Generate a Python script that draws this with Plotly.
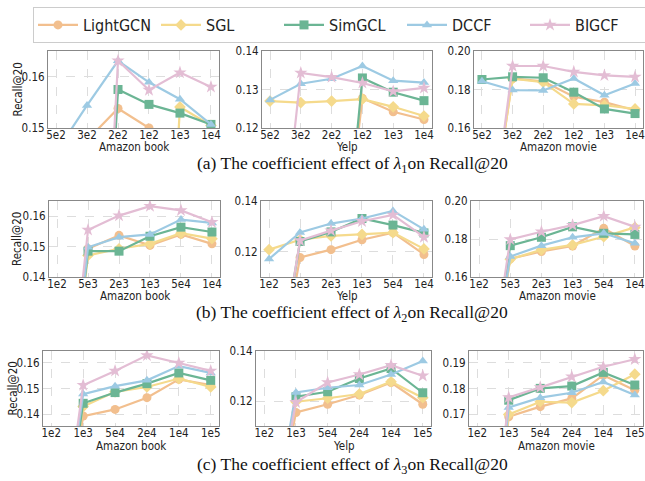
import plotly.graph_objects as go

models = ["LightGCN", "SGL", "SimGCL", "DCCF", "BIGCF"]
colors = ["#F2BF8E", "#F5DA8C", "#6BB594", "#9DCAE3", "#E3BDD4"]
symbols = ["circle", "diamond", "square", "triangle-up", "star"]

x_a = ["5e2", "3e2", "2e2", "1e2", "1e3", "1e4"]
x_b = ["1e2", "5e3", "2e3", "1e3", "5e4", "1e4"]
x_c = ["1e2", "1e3", "5e4", "2e4", "1e4", "1e5"]

# Row (a): lambda_1
book_a = {
    "LightGCN": [0.146, 0.1476, 0.1538, 0.1500, 0.148, 0.147],
    "SGL": [0.05, 0.05, 0.05, 0.05, 0.1541, 0.1505],
    "SimGCL": [0.05, 0.05, 0.1575, 0.1546, 0.1529, 0.1507],
    "DCCF": [0.1453, 0.1544, 0.1631, 0.1589, 0.1556, 0.1507],
    "BIGCF": [0.05, 0.05, 0.1631, 0.1574, 0.1608, 0.1580],
}
yelp_a = {
    "LightGCN": [0.06, 0.06, 0.06, 0.1277, 0.1242, 0.1222],
    "SGL": [0.1270, 0.1266, 0.1270, 0.1275, 0.1255, 0.1231],
    "SimGCL": [0.05, 0.05, 0.05, 0.1330, 0.1293, 0.1271],
    "DCCF": [0.1273, 0.1315, 0.1328, 0.1361, 0.1323, 0.1318],
    "BIGCF": [0.06, 0.1343, 0.1332, 0.1317, 0.1295, 0.1304],
}
movie_a = {
    "LightGCN": [0.08, 0.1857, 0.1843, 0.1762, 0.1734, 0.1692],
    "SGL": [0.08, 0.1856, 0.1838, 0.1725, 0.1718, 0.1699],
    "SimGCL": [0.1852, 0.1866, 0.1861, 0.1786, 0.1699, 0.1675],
    "DCCF": [0.1843, 0.1797, 0.1795, 0.1857, 0.1770, 0.1831],
    "BIGCF": [0.07, 0.1922, 0.1922, 0.1892, 0.1873, 0.1866],
}

# Row (b): lambda_2
book_b = {
    "LightGCN": [0.06, 0.1493, 0.1537, 0.1504, 0.1540, 0.1509],
    "SGL": [0.06, 0.1471, 0.1493, 0.1509, 0.1544, 0.1526],
    "SimGCL": [0.06, 0.1485, 0.1485, 0.1534, 0.1564, 0.1548],
    "DCCF": [0.06, 0.1498, 0.1531, 0.1540, 0.1589, 0.1578],
    "BIGCF": [0.06, 0.1555, 0.1602, 0.1633, 0.1619, 0.1580],
}
yelp_b = {
    "LightGCN": [0.05, 0.1177, 0.1208, 0.1247, 0.1275, 0.1189],
    "SGL": [0.1208, 0.1247, 0.1262, 0.1268, 0.1275, 0.1211],
    "SimGCL": [0.05, 0.1240, 0.1278, 0.1331, 0.1305, 0.1274],
    "DCCF": [0.1171, 0.1276, 0.1311, 0.1331, 0.1361, 0.1288],
    "BIGCF": [0.05, 0.1244, 0.1283, 0.1320, 0.1345, 0.1258],
}
movie_b = {
    "LightGCN": [0.07, 0.1696, 0.1734, 0.1763, 0.1856, 0.1763],
    "SGL": [0.07, 0.1694, 0.1743, 0.1769, 0.1812, 0.1861],
    "SimGCL": [0.07, 0.1765, 0.1809, 0.1864, 0.1830, 0.1824],
    "DCCF": [0.07, 0.1708, 0.1765, 0.1809, 0.1830, 0.1777],
    "BIGCF": [0.07, 0.1798, 0.1838, 0.1873, 0.1920, 0.1864],
}

# Row (c): lambda_3
book_c = {
    "LightGCN": [0.06, 0.1392, 0.1418, 0.1464, 0.1536, 0.1513],
    "SGL": [0.06, 0.1429, 0.1487, 0.1506, 0.1539, 0.1506],
    "SimGCL": [0.06, 0.1442, 0.1484, 0.1519, 0.1561, 0.1532],
    "DCCF": [0.06, 0.1478, 0.1509, 0.1532, 0.1588, 0.1561],
    "BIGCF": [0.06, 0.1513, 0.1569, 0.1630, 0.1600, 0.1569],
}
yelp_c = {
    "LightGCN": [0.05, 0.1154, 0.1187, 0.1224, 0.1274, 0.1187],
    "SGL": [0.05, 0.1197, 0.1211, 0.1228, 0.1277, 0.1213],
    "SimGCL": [0.05, 0.1217, 0.1237, 0.1290, 0.1330, 0.1233],
    "DCCF": [0.05, 0.1234, 0.1253, 0.1264, 0.1306, 0.1360],
    "BIGCF": [0.05, 0.1195, 0.1274, 0.1306, 0.1343, 0.1301],
}
movie_c = {
    "LightGCN": [0.06, 0.1691, 0.1730, 0.1762, 0.1852, 0.1794],
    "SGL": [0.06, 0.1700, 0.1749, 0.1746, 0.1792, 0.1856],
    "SimGCL": [0.06, 0.1755, 0.1801, 0.1810, 0.1863, 0.1814],
    "DCCF": [0.06, 0.1727, 0.1765, 0.1784, 0.1826, 0.1775],
    "BIGCF": [0.06, 0.1766, 0.1805, 0.1846, 0.1885, 0.1914],
}

dataset_titles = ["Amazon book", "Yelp", "Amazon movie"]
y_title = "Recall@20"
captions = [
    "(a) The coefficient effect of <i>λ</i><sub>1</sub>on Recall@20",
    "(b) The coefficient effect of <i>λ</i><sub>2</sub>on Recall@20",
    "(c) The coefficient effect of <i>λ</i><sub>3</sub>on Recall@20",
]

panels = [
    [(book_a, x_a, [0.15, 0.165], [0.15, 0.16]),
     (yelp_a, x_a, [0.12, 0.14], [0.12, 0.13, 0.14]),
     (movie_a, x_a, [0.16, 0.20], [0.16, 0.18, 0.20])],
    [(book_b, x_b, [0.14, 0.165], [0.14, 0.15, 0.16]),
     (yelp_b, x_b, [0.11, 0.14], [0.12, 0.14]),
     (movie_b, x_b, [0.16, 0.20], [0.16, 0.18, 0.20])],
    [(book_c, x_c, [0.1353, 0.1647], [0.14, 0.15, 0.16]),
     (yelp_c, x_c, [0.11, 0.14], [0.12, 0.14]),
     (movie_c, x_c, [0.1655, 0.1946], [0.17, 0.18, 0.19])],
]

W, H = 645, 481
# pixel boxes (left, right, top, bottom) of each panel
boxes = [
    [(48, 219, 51, 128), (262, 432, 51, 128), (474, 643, 51, 128)],
    [(49, 220, 201, 277), (261, 432, 201, 277), (471, 643, 201, 277)],
    [(43, 219, 351, 426), (256, 431, 351, 426), (469, 643, 351, 426)],
]
caption_y = [165, 313, 465]
xtitle_y = [147, 296, 446]
ytitle_x = [17, 17, 12]

FONT = "DejaVu Sans Condensed, DejaVu Sans"
fig = go.Figure()
layout = {}
annotations = []
n = 0
tfont = dict(family=FONT, size=11.5, color="#222")
for r in range(3):
    for c in range(3):
        n += 1
        data, xcats, yr, yt = panels[r][c]
        l, rr, t, b = boxes[r][c]
        xa = "xaxis" if n == 1 else f"xaxis{n}"
        ya = "yaxis" if n == 1 else f"yaxis{n}"
        xref = "x" if n == 1 else f"x{n}"
        yref = "y" if n == 1 else f"y{n}"
        for i, m in enumerate(models):
            fig.add_trace(go.Scatter(
                x=xcats, y=data[m], mode="lines+markers", name=m,
                legendgroup=m, showlegend=(n == 1),
                line=dict(color=colors[i], width=2.2),
                marker=dict(symbol=symbols[i], size=9 if symbols[i] != "star" else 10,
                            color=colors[i], line=dict(width=0)),
                xaxis=xref, yaxis=yref, cliponaxis=True,
            ))
        layout[xa] = dict(
            domain=[l / W, rr / W], anchor=yref, type="category",
            categoryorder="array", categoryarray=xcats, automargin=False,
            range=[-0.26, 5.26], showgrid=True, gridcolor="#dddddd",
            griddash="dash", gridwidth=0.8, showline=True, linecolor="#888888",
            linewidth=1.2, mirror=True, ticks="", ticklen=0, ticklabelstandoff=-4,
            tickfont=tfont, zeroline=False,
        )
        layout[ya] = dict(
            domain=[1 - b / H, 1 - t / H], anchor=xref, range=yr, automargin=False,
            tickvals=yt, ticktext=[f"{v:.2f}" for v in yt],
            showgrid=True, gridcolor="#dddddd", griddash="dash", gridwidth=0.8,
            showline=True, linecolor="#888888", linewidth=1.2, mirror=True,
            ticks="", tickfont=tfont, zeroline=False,
        )
        annotations.append(dict(
            text=dataset_titles[c], x=(l + rr) / 2 / W, y=1 - xtitle_y[r] / H,
            xref="paper", yref="paper", xanchor="center", yanchor="middle",
            showarrow=False, font=tfont,
        ))
        if c == 0:
            annotations.append(dict(
                text=y_title, x=ytitle_x[r] / W, y=1 - (t + b) / 2 / H,
                xref="paper", yref="paper", xanchor="center", yanchor="middle",
                textangle=-90, showarrow=False, font=tfont,
            ))

for r in range(3):
    annotations.append(dict(
        text=captions[r], x=352 / W, y=1 - caption_y[r] / H, xref="paper", yref="paper",
        xanchor="center", yanchor="middle", showarrow=False,
        font=dict(family="Liberation Serif", size=17.5, color="#111"),
    ))

fig.update_layout(
    template="none",
    width=W, height=H, margin=dict(l=0, r=0, t=0, b=0, autoexpand=False),
    plot_bgcolor="white", paper_bgcolor="white",
    showlegend=True,
    legend=dict(orientation="h", x=33 / W, xanchor="left", y=1 - 7 / H, yanchor="top",
                bordercolor="#cccccc", borderwidth=1, bgcolor="white",
                font=dict(family=FONT, size=16, color="#222"),
                itemwidth=40, tracegroupgap=0, entrywidth=68, entrywidthmode="pixels"),
    annotations=annotations,
    **layout,
)

fig.write_html("out.html", config={"displayModeBar": False},
               post_script="document.body.style.margin='0';document.body.style.padding='0';")
